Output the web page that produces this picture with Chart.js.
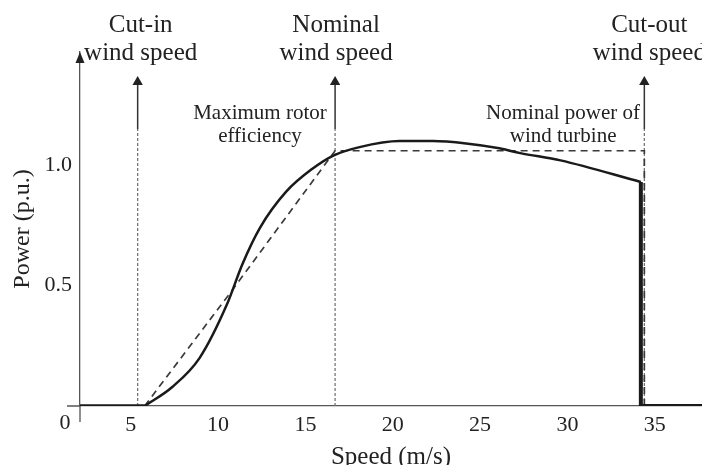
<!DOCTYPE html>
<html>
<head>
<meta charset="utf-8">
<script src="https://cdn.jsdelivr.net/npm/chart.js@4.4.1/dist/chart.umd.min.js"></script>
<style>
  html, body { margin: 0; padding: 0; background: #fff; }
</style>
</head>
<body>
<canvas id="powerCurve" width="702" height="465"></canvas>
<script>
// 坐标轴刻度
const xTicks = [5, 10, 15, 20, 25, 30, 35];
const yTicks = [0.5, 1.0];

// 实际功率曲线 (m/s, p.u.)
const idleSpeed = [0, 5.8];
const idlePower = [0, 0];
const curveSpeed = [5.8, 7.4, 8.95, 10.5, 11.4, 12.4, 13.9, 15.4, 16.6, 18.1, 20.4, 22.3, 24.2, 26.1, 27.3, 29.6, 34.2];
const curvePower = [0, 0.08, 0.2, 0.42, 0.59, 0.74, 0.89, 0.985, 1.04, 1.075, 1.1, 1.1, 1.09, 1.07, 1.05, 1.02, 0.93];
const cutoffSpeed = [34.2, 34.2, 38];
const cutoffPower = [0.93, 0, 0];

// 理想功率曲线 (虚线)
const idealSpeed = [5.8, 10.7, 16.7, 34.4, 34.4];
const idealPower = [0, 0.47, 1.06, 1.06, 0];

// 切入 / 额定 / 切出 风速
const markerSpeeds = [5.4, 16.7, 34.4];
const markerNames = [['Cut-in', 'wind speed'], ['Nominal', 'wind speed'], ['Cut-out', 'wind speed']];
const arrowFrom = 1.15;
const arrowTop = 1.345;

const SERIF = '"Liberation Serif", "DejaVu Serif", serif';
const INK = '#222';

function pts(xs, ys) {
    return xs.map((x, i) => ({ x: x, y: ys[i] }));
}

const datasets = [
    { data: pts(curveSpeed, curvePower), borderColor: '#1a1a1a', borderWidth: 2.5, cubicInterpolationMode: 'monotone' },
    { data: pts(idleSpeed, idlePower), borderColor: '#1a1a1a', borderWidth: 3.5 },
    { data: pts(cutoffSpeed, cutoffPower), borderColor: '#1a1a1a', borderWidth: 4, borderJoinStyle: 'miter' },
    { data: pts(idealSpeed, idealPower), borderColor: '#3a3a3a', borderWidth: 1.7, borderDash: [7, 5] }
];

markerSpeeds.forEach(s => {
    datasets.push({
        data: [{ x: s, y: 0 }, { x: s, y: arrowFrom }],
        borderColor: '#777', borderWidth: 1.3, borderDash: [3, 2]
    });
    datasets.push({
        data: [{ x: s, y: arrowFrom }, { x: s, y: arrowTop }],
        borderColor: '#333', borderWidth: 1.5,
        pointRadius: [0, 6], pointStyle: 'triangle',
        pointBackgroundColor: '#222', pointBorderColor: '#222', pointBorderWidth: 0
    });
});

// 标题文字相对箭头的偏移
const markerShift = [3, 1, 5];

// 图上的说明文字
const notes = [
    { lines: ['Maximum rotor', 'efficiency'], x: 12.4, y: [1.215, 1.12] },
    { lines: ['Nominal power of', 'wind turbine'], x: 29.75, y: [1.215, 1.12] }
];

const decorations = {
    id: 'decorations',
    afterDraw(chart) {
        const { ctx, chartArea: a, scales: { x, y } } = chart;
        ctx.save();
        ctx.strokeStyle = '#555';
        ctx.fillStyle = '#222';
        ctx.lineWidth = 1.3;
        // 坐标轴延伸
        ctx.beginPath();
        ctx.moveTo(a.left - 13, a.bottom);
        ctx.lineTo(a.left, a.bottom);
        ctx.moveTo(a.left, a.bottom);
        ctx.lineTo(a.left, a.bottom + 16);
        ctx.stroke();
        // y轴箭头
        ctx.beginPath();
        ctx.moveTo(a.left, a.top);
        ctx.lineTo(a.left - 4.5, a.top + 11);
        ctx.lineTo(a.left + 4.5, a.top + 11);
        ctx.closePath();
        ctx.fill();

        ctx.fillStyle = INK;
        ctx.textAlign = 'center';
        ctx.textBaseline = 'middle';
        ctx.font = '22px ' + SERIF;
        ctx.fillText('0', a.left - 15, a.bottom + 17);

        ctx.font = '25px ' + SERIF;
        markerSpeeds.forEach((s, i) => {
            const px = x.getPixelForValue(s) + markerShift[i];
            ctx.fillText(markerNames[i][0], px, 25);
            ctx.fillText(markerNames[i][1], px, 53);
        });

        ctx.font = '21px ' + SERIF;
        notes.forEach(n => {
            n.lines.forEach((t, i) => {
                ctx.fillText(t, x.getPixelForValue(n.x), y.getPixelForValue(n.y[i]));
            });
        });
        ctx.restore();
    }
};

new Chart(document.getElementById('powerCurve'), {
    type: 'line',
    data: { datasets: datasets },
    options: {
        responsive: false,
        animation: false,
        events: [],
        layout: { autoPadding: false, padding: { top: 52, left: 0, right: 0, bottom: 0 } },
        elements: { point: { radius: 0 } },
        plugins: { legend: { display: false }, tooltip: { enabled: false } },
        scales: {
            x: {
                type: 'linear',
                min: 2.1,
                max: 37.7,
                afterBuildTicks: s => { s.ticks = xTicks.map(v => ({ value: v })); },
                afterFit: s => { s.height = 59; s.paddingLeft = 0; s.paddingRight = 0; },
                grid: { display: false, drawTicks: false },
                border: { display: true, color: '#555', width: 1.3 },
                ticks: {
                    color: INK, padding: 6, maxRotation: 0, autoSkip: false,
                    font: { family: SERIF, size: 22 },
                    callback: v => String(v)
                },
                title: {
                    display: true, text: 'Speed (m/s)', color: INK, padding: 0,
                    font: { family: SERIF, size: 25, lineHeight: '16px' }
                }
            },
            y: {
                type: 'linear',
                min: 0,
                max: 1.47,
                afterBuildTicks: s => { s.ticks = yTicks.map(v => ({ value: v })); },
                afterFit: s => { s.width = 80; s.paddingTop = 0; s.paddingBottom = 0; },
                grid: { display: false, drawTicks: false },
                border: { display: true, color: '#555', width: 1.3 },
                ticks: {
                    color: INK, padding: 8,
                    font: { family: SERIF, size: 22 },
                    callback: v => v.toFixed(1)
                },
                title: {
                    display: true, text: 'Power (p.u.)', color: INK,
                    padding: { top: 8, bottom: 0 },
                    font: { family: SERIF, size: 24 }
                }
            }
        }
    },
    plugins: [decorations]
});
</script>
</body>
</html>
